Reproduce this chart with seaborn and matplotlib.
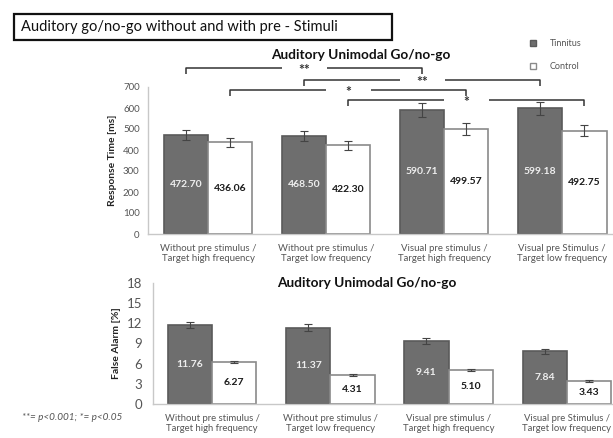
import matplotlib
matplotlib.use("Agg")
import matplotlib.pyplot as plt
import seaborn as sns
import pandas as pd
from matplotlib.patches import Rectangle
from matplotlib.lines import Line2D

sns.set_theme(style="white")
plt.rcParams["font.family"] = ["Lato", "DejaVu Sans"]

# dati
conditions = ["Without pre stimulus /\nTarget high frequency",
              "Without pre stimulus /\nTarget low frequency",
              "Visual pre stimulus /\nTarget high frequency",
              "Visual pre Stimulus /\nTarget low frequency"]
groups = ["Tinnitus", "Control"]

rt_tinnitus = [472.70, 468.50, 590.71, 599.18]
rt_control = [436.06, 422.30, 499.57, 492.75]
rt_tinnitus_err = [24, 24, 32, 31]
rt_control_err = [22, 20, 28, 27]

fa_tinnitus = [11.76, 11.37, 9.41, 7.84]
fa_control = [6.27, 4.31, 5.10, 3.43]
fa_tinnitus_err = [0.5, 0.5, 0.45, 0.4]
fa_control_err = [0.2, 0.12, 0.15, 0.12]

# parentesi di significativita: (condizione a, condizione b, gruppo, altezza, stelle)
brackets = [(0, 2, 0, 790, "**"),
            (1, 3, 0, 733, "**"),
            (0, 2, 1, 686, "*"),
            (1, 3, 1, 638, "*")]

colors = {"Tinnitus": "#6e6e6e", "Control": "white"}
edges = {"Tinnitus": "#5a5a5a", "Control": "#8a8a8a"}
text_gray = "#555555"

W, H = 613, 438
fig = plt.figure(figsize=(W / 100, H / 100), dpi=100)


def draw_panel(ax, tinn, ctrl, tinn_err, ctrl_err, fmt):
    df = pd.DataFrame({
        "condition": conditions * 2,
        "group": ["Tinnitus"] * 4 + ["Control"] * 4,
        "value": tinn + ctrl,
    })
    sns.barplot(data=df, x="condition", y="value", hue="group", order=conditions,
                hue_order=groups, palette=colors, width=0.75, errorbar=None,
                legend=False, ax=ax)
    errs = [tinn_err, ctrl_err]
    bar_conts = list(ax.containers[:2])
    centers = []
    for gi, cont in enumerate(bar_conts):
        g = groups[gi]
        xs, ys = [], []
        for bar in cont:
            bar.set_edgecolor(edges[g])
            bar.set_linewidth(1.2)
            cx = bar.get_x() + bar.get_width() / 2
            h = bar.get_height()
            xs.append(cx)
            ys.append(h)
            ax.text(cx, h / 2, fmt % h, ha="center", va="center", fontsize=7.5,
                    fontweight="bold",
                    color="#eeeeee" if g == "Tinnitus" else "#1a1a1a")
        ax.errorbar(xs, ys, yerr=errs[gi], fmt="none", ecolor="#444444",
                    elinewidth=0.8, capsize=3, capthick=0.8)
        centers.append(xs)
    ax.set_xlabel("")
    for s in ["top", "right"]:
        ax.spines[s].set_visible(False)
    for s in ["left", "bottom"]:
        ax.spines[s].set_color("#c8c8c8")
        ax.spines[s].set_linewidth(1)
    ax.tick_params(length=0, colors=text_gray)
    ax.set_facecolor("none")
    return centers


# pannello superiore: tempo di risposta
ax1 = fig.add_axes([148 / W, 1 - 234 / H, (W - 148) / W, (234 - 87) / H])
centers = draw_panel(ax1, rt_tinnitus, rt_control, rt_tinnitus_err, rt_control_err, "%.2f")
ax1.set_ylim(0, 700)
ax1.set_xlim(-0.51, 3.43)
ax1.set_yticks(range(0, 701, 100))
ax1.tick_params(axis="y", labelsize=7, pad=6)
ax1.tick_params(axis="x", labelsize=6.9, pad=7)
ax1.set_ylabel("Response Time [ms]", fontsize=7.4, fontweight="bold", color="#222222")

for a, b, g, y, stars in brackets:
    xa, xb = centers[g][a], centers[g][b]
    mid = (xa + xb) / 2
    kw = dict(color="#333333", lw=1.1, clip_on=False, solid_capstyle="butt")
    ax1.plot([xa, xa, mid - 0.19], [y - 28, y, y], **kw)
    ax1.plot([mid + 0.19, xb, xb], [y, y, y - 28], **kw)
    ax1.text(mid, y - 8, stars, ha="center", va="center", fontsize=10,
             fontweight="bold", color="#333333")

fig.text(361 / W, 1 - 55 / H, "Auditory Unimodal Go/no-go", ha="center", va="center",
         fontsize=9.8, fontweight="bold", color="#111111")

# pannello inferiore: falsi allarmi
ax2 = fig.add_axes([153 / W, 1 - 404 / H, (W - 153) / W, (404 - 283) / H])
draw_panel(ax2, fa_tinnitus, fa_control, fa_tinnitus_err, fa_control_err, "%.2f")
ax2.set_ylim(0, 18)
ax2.set_xlim(-0.5, 3.39)
ax2.set_yticks(range(0, 19, 3))
ax2.tick_params(axis="y", labelsize=9.5, pad=8)
ax2.tick_params(axis="x", labelsize=6.8, pad=7)
ax2.set_ylabel("False Alarm [%]", fontsize=7.5, fontweight="bold", color="#222222")

fig.text(367 / W, 1 - 283 / H, "Auditory Unimodal Go/no-go", ha="center", va="center",
         fontsize=9.8, fontweight="bold", color="#111111")

# legenda
handles = [Line2D([], [], marker="s", ls="none", markersize=5,
                  markerfacecolor=colors[g], markeredgecolor=edges[g], label=g)
           for g in groups]
leg = fig.legend(handles=handles, loc="upper left", bbox_to_anchor=(520 / W, 1 - 31 / H),
                 frameon=False, fontsize=6.5, labelspacing=1.5, handletextpad=1.4,
                 handlelength=1)
for t in leg.get_texts():
    t.set_color(text_gray)

# riquadro titolo
fig.add_artist(Rectangle((14 / W, 1 - 40 / H), (392 - 14) / W, 26 / H,
                         transform=fig.transFigure, fill=False, lw=1.6,
                         edgecolor="#111111"))
fig.text(21 / W, 1 - 27 / H, "Auditory go/no-go without and with pre - Stimuli",
         ha="left", va="center", fontsize=10.5, color="#111111")

fig.text(22 / W, 1 - 417 / H, "**= p<0.001; *= p<0.05", ha="left", va="center",
         fontsize=7.2, style="italic", color=text_gray)

fig.savefig("out.png", dpi=100)
